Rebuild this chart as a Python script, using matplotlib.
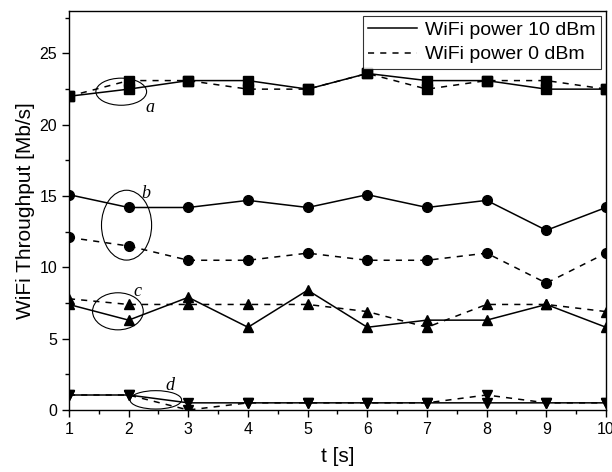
import matplotlib
matplotlib.use("Agg")
import matplotlib.pyplot as plt
from matplotlib.patches import Ellipse
from matplotlib.ticker import MultipleLocator

plt.rcParams['font.family'] = ['Liberation Sans', 'DejaVu Sans']

t = [1, 2, 3, 4, 5, 6, 7, 8, 9, 10]

# a (squares)
a_10dBm = [22.0, 22.5, 23.1, 23.1, 22.5, 23.6, 23.1, 23.1, 22.5, 22.5]
a_0dBm = [22.0, 23.1, 23.1, 22.5, 22.5, 23.6, 22.5, 23.1, 23.1, 22.5]
# b (circles)
b_10dBm = [15.1, 14.2, 14.2, 14.7, 14.2, 15.1, 14.2, 14.7, 12.6, 14.2]
b_0dBm = [12.1, 11.5, 10.5, 10.5, 11.0, 10.5, 10.5, 11.0, 8.9, 11.0]
# c (up triangles)
c_10dBm = [7.4, 6.3, 7.9, 5.8, 8.4, 5.8, 6.3, 6.3, 7.4, 5.8]
c_0dBm = [7.8, 7.4, 7.4, 7.4, 7.4, 6.9, 5.8, 7.4, 7.4, 6.9]
# d (down triangles)
d_10dBm = [1.05, 1.05, 0.5, 0.5, 0.5, 0.5, 0.5, 0.5, 0.5, 0.5]
d_0dBm = [1.05, 1.05, 0.0, 0.5, 0.5, 0.5, 0.5, 1.05, 0.5, 0.5]

series_labels = ["WiFi power 10 dBm", "WiFi power 0 dBm"]
group_labels = ["a", "b", "c", "d"]

fig = plt.figure(figsize=(6.12, 4.72), dpi=100)
ax = fig.add_axes([0.1127, 0.1314, 0.8775, 0.8459])

groups = [(a_10dBm, a_0dBm, 's', 6.5), (b_10dBm, b_0dBm, 'o', 7),
          (c_10dBm, c_0dBm, '^', 7.5), (d_10dBm, d_0dBm, 'v', 7.5)]
for i, (s10, s0, m, ms) in enumerate(groups):
    ax.plot(t, s10, color='black', linestyle='-', linewidth=1.1, marker=m,
            markersize=ms, label=series_labels[0] if i == 0 else None)
    ax.plot(t, s0, color='black', linestyle=(0, (4, 4)), linewidth=1.1, marker=m,
            markersize=ms, label=series_labels[1] if i == 0 else None)

# ellipses and labels
ell = [(1.876, 22.32, 0.85, 1.9), (1.965, 12.96, 0.84, 4.9),
       (1.82, 6.92, 0.85, 2.6), (2.455, 0.71, 0.865, 1.29)]
lab_pos = [(2.35, 21.2), (2.28, 15.2), (2.15, 8.3), (2.70, 1.75)]
for (cx, cy, w, h), (lx, ly), g in zip(ell, lab_pos, group_labels):
    ax.add_patch(Ellipse((cx, cy), w, h, fill=False, edgecolor='black', linewidth=0.8))
    ax.text(lx, ly, g, fontsize=13, style='italic', family=['Liberation Serif', 'DejaVu Serif'],
            ha='center', va='center')

ax.set_xlim(1, 10)
ax.set_ylim(0, 28)
ax.xaxis.set_major_locator(MultipleLocator(1))
ax.xaxis.set_minor_locator(MultipleLocator(0.5))
ax.yaxis.set_major_locator(MultipleLocator(5))
ax.yaxis.set_minor_locator(MultipleLocator(2.5))
ax.tick_params(which='major', direction='out', length=5, width=1, labelsize=11.5)
ax.tick_params(which='minor', direction='out', length=3, width=1)
for sp in ax.spines.values():
    sp.set_linewidth(1.0)

ax.set_xlabel("t [s]", fontsize=15, labelpad=7)
ax.set_ylabel("WiFi Throughput [Mb/s]", fontsize=15, labelpad=3)

leg = ax.legend(loc='upper right', fontsize=14, frameon=True, fancybox=False,
                edgecolor='black', handlelength=2.5, borderaxespad=0.25,
                borderpad=0.3, labelspacing=0.35, handletextpad=0.4)
leg.get_frame().set_linewidth(0.8)
for h in leg.legend_handles:
    h.set_marker('')

fig.savefig("out.png", dpi=100)
